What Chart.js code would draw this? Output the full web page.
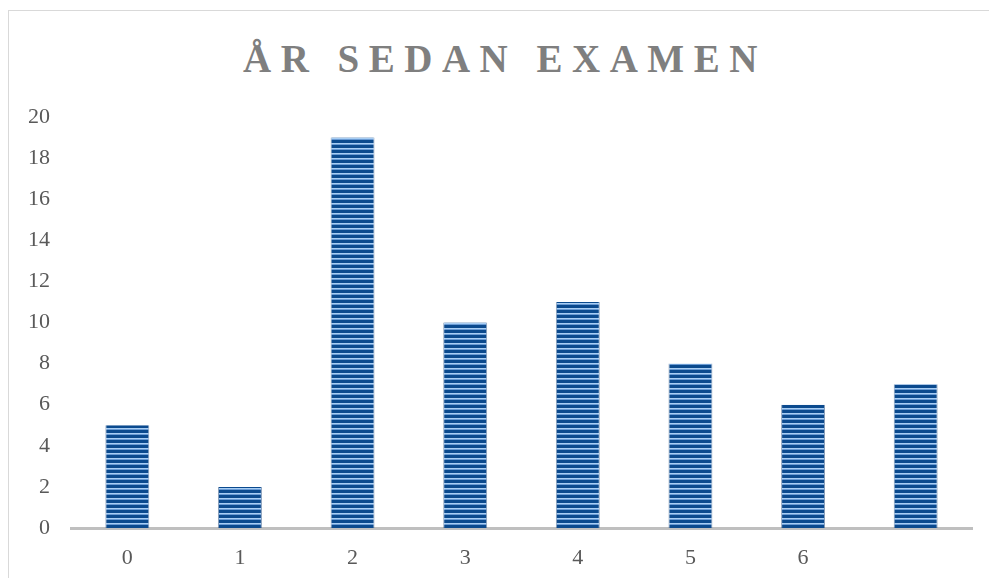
<!DOCTYPE html>
<html>
<head>
<meta charset="utf-8">
<script src="https://cdn.jsdelivr.net/npm/chart.js@4.4.1/dist/chart.umd.min.js"></script>
<style>
  html, body { margin: 0; padding: 0; background: #fff; overflow: hidden; }
  #wrap { position: relative; width: 989px; height: 578px; }
  #frame { position: absolute; left: 8px; top: 10px; width: 1100px; height: 700px; border: 1px solid #d9d9d9; box-sizing: border-box; }
  #title { position: absolute; left: 243px; top: 39px; font-family: "Liberation Serif", "Times New Roman", serif; font-weight: bold; font-size: 39px; line-height: 39px; letter-spacing: 9.5px; color: #7f7f7f; white-space: nowrap; }
  canvas { position: absolute; left: 0; top: 0; }
</style>
</head>
<body>
<div id="wrap">
  <div id="frame"></div>
  <div id="title">ÅR SEDAN EXAMEN</div>
  <canvas id="c" width="989" height="578"></canvas>
</div>
<script>
const categories = ['0', '1', '2', '3', '4', '5', '6', ''];
const values = [5, 2, 19, 10, 11, 8, 6, 7];
const yTicks = [0, 2, 4, 6, 8, 10, 12, 14, 16, 18, 20];

function stripePattern() {
  const p = document.createElement('canvas');
  p.width = 4; p.height = 5;
  const g = p.getContext('2d');
  g.fillStyle = '#0b4a8e'; g.fillRect(0, 0, 4, 5);
  g.fillStyle = '#a8cef4'; g.fillRect(0, 3, 4, 1);
  g.fillStyle = '#6a9bd4'; g.fillRect(0, 4, 4, 1);
  return g.createPattern(p, 'repeat');
}

const ctx = document.getElementById('c').getContext('2d');
new Chart(ctx, {
  type: 'bar',
  data: {
    labels: categories,
    datasets: [{
      data: values,
      backgroundColor: stripePattern(),
      borderColor: 'rgba(40,80,130,0.55)',
      borderWidth: { left: 1, right: 1, top: 0, bottom: 0 },
      categoryPercentage: 1,
      barPercentage: 0.39
    }]
  },
  options: {
    responsive: false,
    animation: false,
    layout: { padding: { top: 117, right: 17, left: 0, bottom: 0 } },
    plugins: { legend: { display: false }, tooltip: { enabled: false }, title: { display: false } },
    scales: {
      x: {
        grid: { display: false, drawTicks: false },
        border: { display: true, color: '#bfbfbf', width: 3 },
        ticks: { color: '#595959', font: { family: 'Liberation Serif', size: 22 }, padding: 17, maxRotation: 0, autoSkip: false },
        afterFit: (s) => { s.height = 50; }
      },
      y: {
        min: 0, max: 20,
        grid: { display: false, drawTicks: false },
        border: { display: false },
        afterBuildTicks: (s) => { s.ticks = yTicks.map(v => ({ value: v })); },
        ticks: { color: '#595959', font: { family: 'Liberation Serif', size: 22 }, padding: 21 },
        afterFit: (s) => { s.width = 71; }
      }
    }
  }
});
</script>
</body>
</html>
